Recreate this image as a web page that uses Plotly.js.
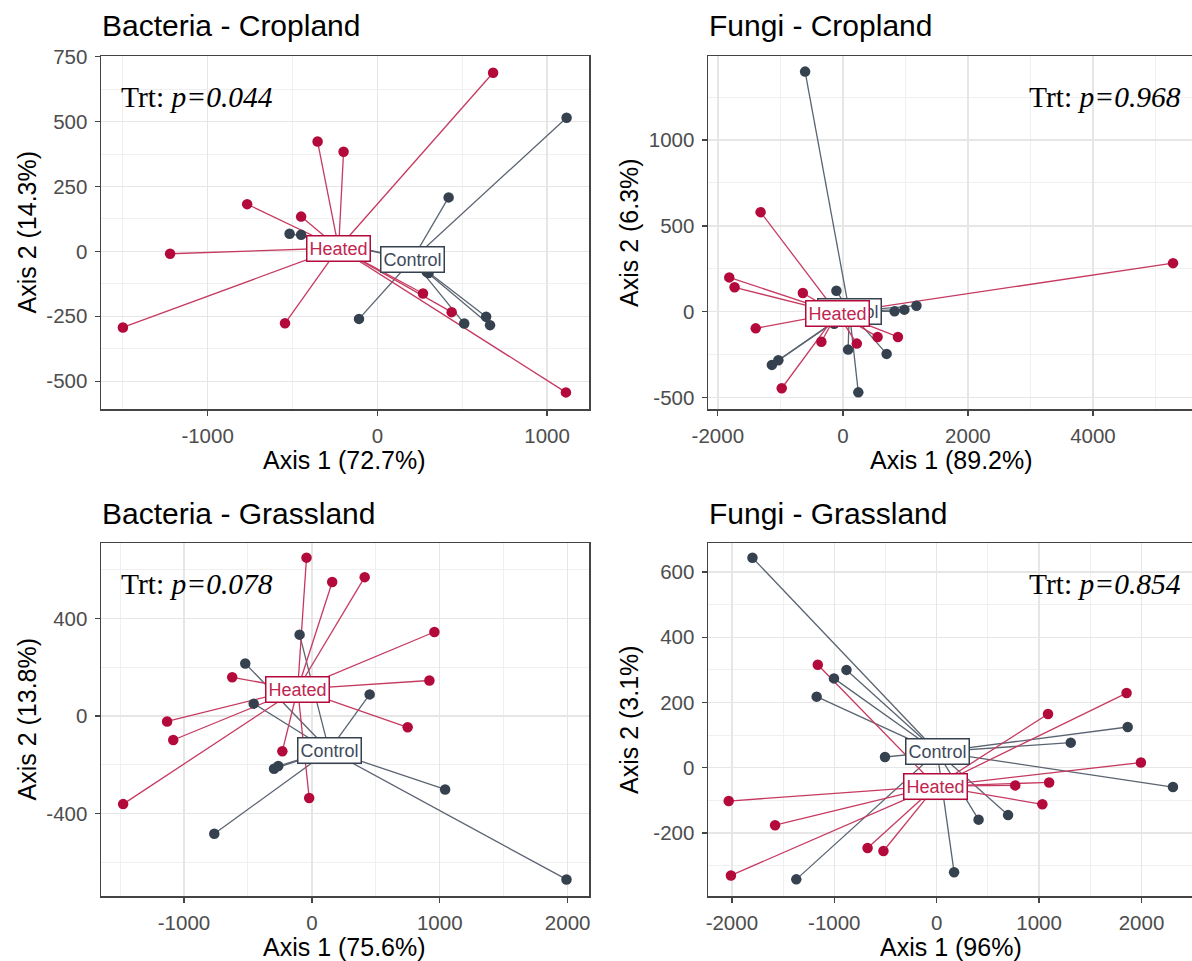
<!DOCTYPE html>
<html><head><meta charset="utf-8">
<script src="https://cdn.plot.ly/plotly-3.0.1.min.js"></script>
<style>html,body{margin:0;padding:0;background:#fff;overflow:hidden}</style>
</head><body><div id="chart" style="width:1200px;height:961px"></div>
<script>
// ---------- data ----------
// Bacteria - Cropland
const bcHeatedX = [682, -352, -199, -767, -449, -1221, -1499, -544, 269, 438, 1111];
const bcHeatedY = [688, 423, 384, 182, 134, -9, -293, -277, -162, -234, -543];
const bcControlX = [1115, 420, -517, -449, -108, 291, 302, 512, 641, 664];
const bcControlY = [515, 208, 68, 64, -260, -79, -83, -278, -252, -284];
const bcHeatedCentroid = [-228, 13];
const bcControlCentroid = [205, -32];
// Fungi - Cropland
const fcHeatedX = [5281, -1316, -1817, -1732, -640, -1394, -344, -978, 223, 555, 881];
const fcHeatedY = [283, 580, 200, 142, 109, -97, -175, -446, -186, -147, -147];
const fcControlX = [-604, -103, -139, 827, 984, 1177, 84, 700, 247, -1135, -1032];
const fcControlY = [1399, 122, -70, 2, 12, 35, -221, -246, -470, -310, -283];
const fcHeatedCentroid = [-91, -8];
const fcControlCentroid = [103, 2];
// Bacteria - Grassland
const bgHeatedX = [-42, 159, 413, 958, 919, -623, -1132, -1084, -1476, 749, -231, -21];
const bgHeatedY = [650, 550, 570, 345, 146, 159, -22, -98, -361, -46, -144, -336];
const bgControlX = [-96, -521, -455, 452, -263, -296, -763, 1042, 1991];
const bgControlY = [334, 216, 51, 89, -205, -216, -483, -301, -670];
const bgHeatedCentroid = [-111, 111];
const bgControlCentroid = [135, -141];
// Fungi - Grassland
const fgHeatedX = [-1161, 1854, 1087, 1994, 767, 1098, 1032, -2031, -1578, -2009, -675, -520];
const fgHeatedY = [316, 229, 165, 16, -54, -45, -112, -102, -176, -330, -246, -255];
const fgControlX = [-1799, -881, -1003, -1172, -505, 1865, 1309, 2307, 409, 697, 170, -1371];
const fgControlY = [644, 300, 274, 218, 33, 125, 77, -59, -159, -145, -320, -342];
const fgHeatedCentroid = [-7, -56];
const fgControlCentroid = [4, 49];

// titles / texts
const panelTitles = ['Bacteria - Cropland', 'Fungi - Cropland', 'Bacteria - Grassland', 'Fungi - Grassland'];
const xTitles = ['Axis 1 (72.7%)', 'Axis 1 (89.2%)', 'Axis 1 (75.6%)', 'Axis 1 (96%)'];
const yTitles = ['Axis 2 (14.3%)', 'Axis 2 (6.3%)', 'Axis 2 (13.8%)', 'Axis 2 (3.1%)'];
const pValues = ['0.044', '0.968', '0.078', '0.854'];
const groupNames = ['Heated', 'Control'];

// tick values
const bcXTicks = [-1000, 0, 1000];
const bcYTicks = [-500, -250, 0, 250, 500, 750];
const fcXTicks = [-2000, 0, 2000, 4000];
const fcYTicks = [-500, 0, 500, 1000];
const bgXTicks = [-1000, 0, 1000, 2000];
const bgYTicks = [-400, 0, 400];
const fgXTicks = [-2000, -1000, 0, 1000, 2000];
const fgYTicks = [-200, 0, 200, 400, 600];

// ---------- styling ----------
const W = 1200, H = 961;
const HEAT = '#B3093B', CTRL = '#36414F';
const HEAT_LINE = '#C63A60', CTRL_LINE = '#5A6471';
const SANS = 'Liberation Sans, Arial, sans-serif';
const SERIF = 'Liberation Serif, Times New Roman, serif';

const panels = [
  {hx: bcHeatedX, hy: bcHeatedY, cx: bcControlX, cy: bcControlY, hc: bcHeatedCentroid, cc: bcControlCentroid,
   xt: bcXTicks, yt: bcYTicks, xr: [-1628, 1247], yr: [-607, 752.5], xminor: 500, yminor: 125,
   px: [101, 589], py: [56, 409], pLeft: true},
  {hx: fcHeatedX, hy: fcHeatedY, cx: fcControlX, cy: fcControlY, hc: fcHeatedCentroid, cc: fcControlCentroid,
   xt: fcXTicks, yt: fcYTicks, xr: [-2157, 5712], yr: [-567, 1490], xminor: 1000, yminor: 250,
   px: [708, 1200], py: [56, 409], pLeft: false},
  {hx: bgHeatedX, hy: bgHeatedY, cx: bgControlX, cy: bgControlY, hc: bgHeatedCentroid, cc: bgControlCentroid,
   xt: bgXTicks, yt: bgYTicks, xr: [-1649, 2167], yr: [-738, 710], xminor: 500, yminor: 200,
   px: [101, 589], py: [543, 896], pLeft: true},
  {hx: fgHeatedX, hy: fgHeatedY, cx: fgControlX, cy: fgControlY, hc: fgHeatedCentroid, cc: fgControlCentroid,
   xt: fgXTicks, yt: fgYTicks, xr: [-2233, 2571], yr: [-393, 689], xminor: 500, yminor: 100,
   px: [708, 1200], py: [543, 896], pLeft: false}
];

function spokes(cen, xs, ys) {
  const x = [], y = [];
  for (let i = 0; i < xs.length; i++) { x.push(cen[0], xs[i], null); y.push(cen[1], ys[i], null); }
  return {x, y};
}

const traces = [];
const layout = {
  width: W, height: H, margin: {l: 0, r: 0, t: 0, b: 0},
  paper_bgcolor: '#fff', plot_bgcolor: '#fff', showlegend: false,
  font: {family: SANS}, annotations: []
};

function axisBase(ticks, range, minor, domain, anchor) {
  return {
    domain: domain, range: range, anchor: anchor,
    tickmode: 'array', tickvals: ticks, ticktext: ticks.map(v => String(v)),
    showgrid: true, gridcolor: '#E6E6E6', gridwidth: 1.4,
    minor: {tickmode: 'linear', tick0: 0, dtick: minor, showgrid: true, gridcolor: '#F0F0F0', gridwidth: 1, ticks: ''},
    zeroline: false, showline: true, mirror: true, linecolor: '#444444', linewidth: 1.5,
    ticks: 'outside', ticklen: 5, tickwidth: 1.3, tickcolor: '#444444',
    tickfont: {family: SANS, size: 20.5, color: '#4D4D4D'}, ticklabelstandoff: 3,
    fixedrange: true
  };
}

panels.forEach((p, i) => {
  const sfx = i === 0 ? '' : String(i + 1);
  const xa = 'x' + sfx, ya = 'y' + sfx;
  const xd = [p.px[0] / W, p.px[1] / W];
  const yd = [(H - p.py[1]) / H, (H - p.py[0]) / H];
  layout['xaxis' + sfx] = axisBase(p.xt, p.xr, p.xminor, xd, ya);
  layout['yaxis' + sfx] = axisBase(p.yt, p.yr, p.yminor, yd, xa);

  const hs = spokes(p.hc, p.hx, p.hy), cs = spokes(p.cc, p.cx, p.cy);
  traces.push({type: 'scatter', mode: 'lines', x: cs.x, y: cs.y, xaxis: xa, yaxis: ya,
    line: {color: CTRL_LINE, width: 1.3}, hoverinfo: 'skip'});
  traces.push({type: 'scatter', mode: 'lines', x: hs.x, y: hs.y, xaxis: xa, yaxis: ya,
    line: {color: HEAT_LINE, width: 1.3}, hoverinfo: 'skip'});
  traces.push({type: 'scatter', mode: 'markers', x: p.cx, y: p.cy, xaxis: xa, yaxis: ya, name: groupNames[1],
    marker: {color: CTRL, size: 10.5}});
  traces.push({type: 'scatter', mode: 'markers', x: p.hx, y: p.hy, xaxis: xa, yaxis: ya, name: groupNames[0],
    marker: {color: HEAT, size: 10.5}});

  // group labels at centroids (Control first, Heated drawn on top)
  const ann = layout.annotations;
  [[groupNames[1], p.cc, CTRL, '#3E4A5C'], [groupNames[0], p.hc, HEAT, '#C0264F']].forEach(o => {
    ann.push({xref: xa, yref: ya, x: o[1][0], y: o[1][1], text: o[0], showarrow: false,
      font: {family: SANS, size: 18, color: o[3]}, bgcolor: '#FFFFFF', bordercolor: o[2],
      borderwidth: 1.5, borderpad: 2, xanchor: 'center', yanchor: 'middle'});
  });

  // panel title
  ann.push({xref: 'paper', yref: 'paper', x: (p.px[0] - 1) / W, y: (H - (p.py[0] - 30)) / H,
    text: panelTitles[i], showarrow: false, xanchor: 'left', yanchor: 'middle',
    font: {family: SANS, size: 30, color: '#000'}});
  // p-value text
  const tx = p.pLeft ? 119 / W : 1183 / W;
  ann.push({xref: 'paper', yref: 'paper', x: tx, y: (H - (p.py[0] + 41)) / H,
    text: 'Trt: <i>p=' + pValues[i] + '</i>', showarrow: false,
    xanchor: p.pLeft ? 'left' : 'right', yanchor: 'middle',
    font: {family: SERIF, size: 29.5, color: '#000'}});
  // axis titles
  const xCenter = p.pLeft ? 344.5 : 951;
  ann.push({xref: 'paper', yref: 'paper', x: xCenter / W, y: (H - (p.py[1] + 51)) / H,
    text: xTitles[i], showarrow: false, xanchor: 'center', yanchor: 'middle',
    font: {family: SANS, size: 25, color: '#000'}});
  const yCenterX = p.pLeft ? 26 : 628.5;
  ann.push({xref: 'paper', yref: 'paper', x: yCenterX / W, y: (H - (p.py[0] + p.py[1]) / 2) / H,
    text: yTitles[i], showarrow: false, xanchor: 'center', yanchor: 'middle', textangle: -90,
    font: {family: SANS, size: 25, color: '#000'}});
});

Plotly.newPlot('chart', traces, layout, {displayModeBar: false, staticPlot: true});
</script>
</body></html>
